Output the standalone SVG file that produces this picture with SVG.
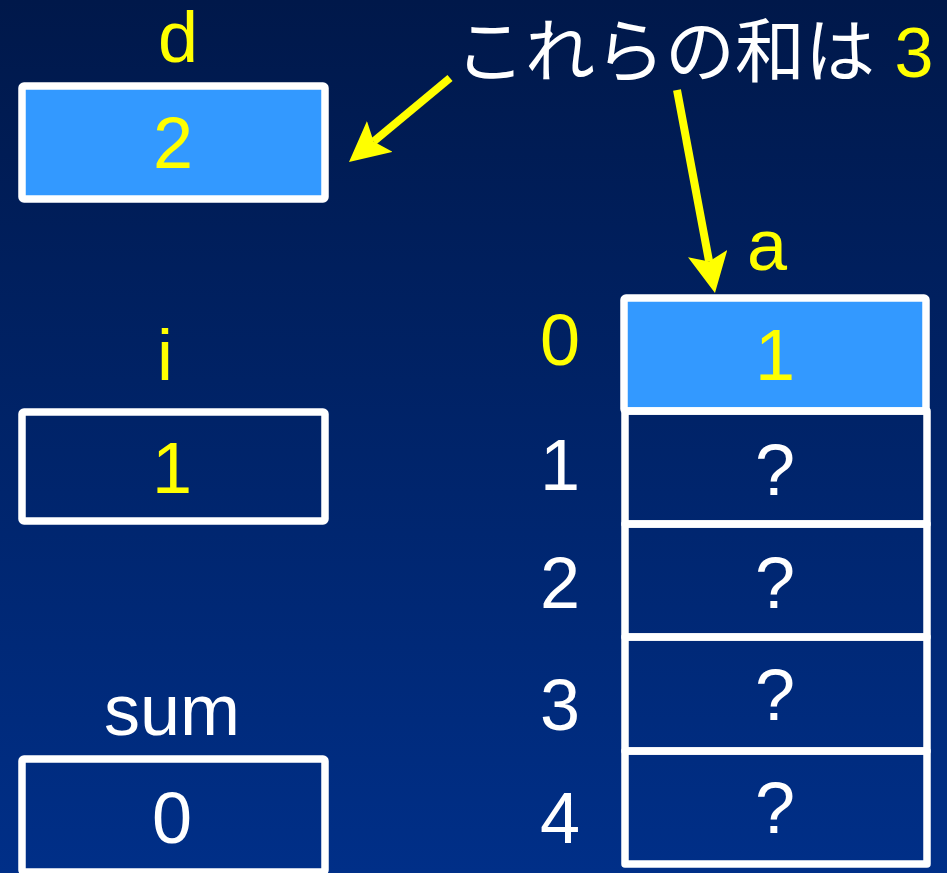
<svg xmlns="http://www.w3.org/2000/svg" width="947" height="873" viewBox="0 0 947 873">
<defs>
<linearGradient id="bg" x1="0" y1="0" x2="0" y2="1">
<stop offset="0" stop-color="#00184a"/>
<stop offset="1" stop-color="#002f88"/>
</linearGradient>
<marker id="ah" viewBox="0 0 40 40" refX="8" refY="20" markerWidth="40" markerHeight="40" markerUnits="userSpaceOnUse" orient="auto">
<path d="M0,0 L40,20 L0,40 L8,20 z" fill="#ffff00"/>
</marker>
<style>
.box{fill:none;stroke:#fff;stroke-width:7.5;stroke-linejoin:round}
.hl{fill:#3399ff}
.t{font-family:"Liberation Sans",Arial,sans-serif;font-size:72px;text-anchor:middle}
.y{fill:#ffff00}
.w{fill:#fff}
.jp{font-family:"Liberation Sans","Noto Sans CJK JP",sans-serif;font-size:70px}
.arrow{stroke:#ffff00;stroke-width:8;fill:none;marker-end:url(#ah)}
</style>
</defs>
<rect x="0" y="0" width="947" height="873" fill="url(#bg)"/>
<g id="title">
<text class="jp w" x="455" y="77">これらの和は <tspan class="y">3</tspan></text>
</g>
<g id="var-d">
<text class="t y" x="178" y="62">d</text>
<rect class="box hl" x="22" y="86" width="303" height="113" rx="2"/>
<text class="t y" x="173" y="168">2</text>
</g>
<g id="var-i">
<text class="t y" x="165" y="380">i</text>
<rect class="box" x="22" y="412" width="303" height="109" rx="2"/>
<text class="t y" x="172" y="493">1</text>
</g>
<g id="var-sum">
<text class="t w" x="172" y="735">sum</text>
<rect class="box" x="22" y="759" width="303" height="113" rx="2"/>
<text class="t w" x="172" y="843">0</text>
</g>
<g id="array-a">
<text class="t y" x="767" y="270">a</text>
<g id="a0">
<rect class="box hl" x="624" y="298" width="302" height="113" rx="2"/>
<text class="t y" x="560" y="365">0</text>
<text class="t y" x="775" y="380">1</text>
</g>
<g id="a1">
<rect class="box" x="625" y="411" width="302" height="113"/>
<text class="t w" x="560" y="490">1</text>
<text class="t w" x="775" y="495">?</text>
</g>
<g id="a2">
<rect class="box" x="625" y="524" width="302" height="113"/>
<text class="t w" x="560" y="608">2</text>
<text class="t w" x="775" y="608">?</text>
</g>
<g id="a3">
<rect class="box" x="625" y="637" width="302" height="114"/>
<text class="t w" x="560" y="730">3</text>
<text class="t w" x="775" y="720">?</text>
</g>
<g id="a4">
<rect class="box" x="625" y="751" width="302" height="113"/>
<text class="t w" x="560" y="843">4</text>
<text class="t w" x="775" y="833">?</text>
</g>
</g>
<g id="connectors">
<line class="arrow" x1="450" y1="78" x2="373.6" y2="141.5"/>
<line class="arrow" x1="677" y1="90" x2="709.1" y2="261.5"/>
</g>
</svg>
